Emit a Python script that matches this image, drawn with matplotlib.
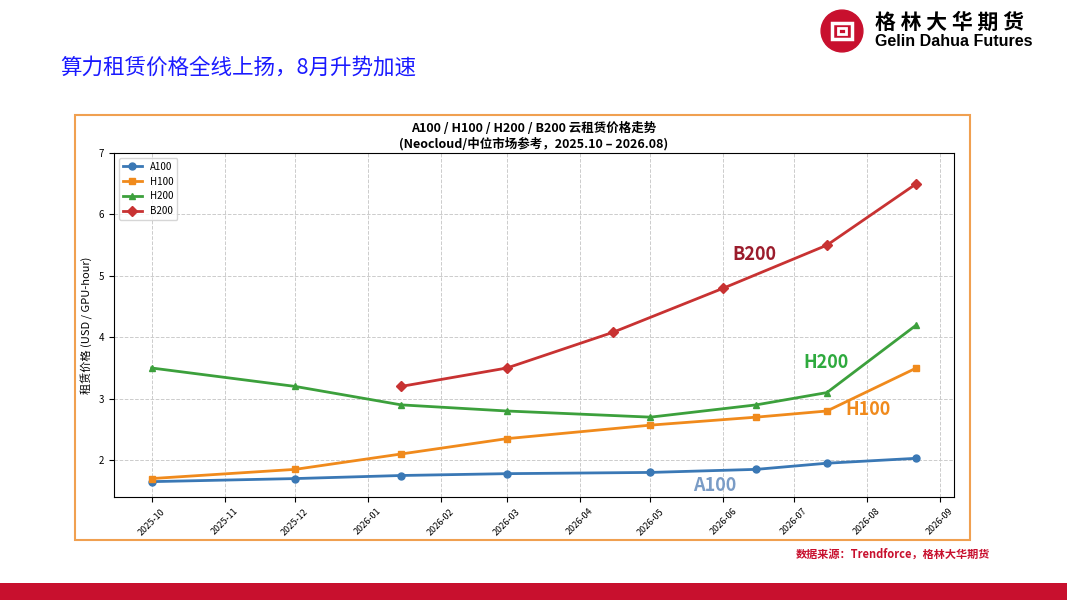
import numpy as np
import pandas as pd
import matplotlib
matplotlib.use('Agg')
from matplotlib import pyplot as plt
from matplotlib.patches import Rectangle, Circle
import matplotlib.dates as mdates

plt.rcParams['font.family'] = ['Noto Sans CJK SC', 'DejaVu Sans']

# data
a100_dates = ['2025-10-01', '2025-12-01', '2026-01-15', '2026-03-01', '2026-05-01',
              '2026-06-15', '2026-07-15', '2026-08-22']
a100 = [1.65, 1.70, 1.75, 1.78, 1.80, 1.85, 1.95, 2.03]
h100_dates = a100_dates
h100 = [1.70, 1.85, 2.10, 2.35, 2.57, 2.70, 2.80, 3.50]
h200_dates = a100_dates
h200 = [3.50, 3.20, 2.90, 2.80, 2.70, 2.90, 3.10, 4.20]
b200_dates = ['2026-01-15', '2026-03-01', '2026-04-15', '2026-06-01', '2026-07-15', '2026-08-22']
b200 = [3.20, 3.50, 4.08, 4.80, 5.50, 6.50]

fig = plt.figure(figsize=(10.67, 6.0), dpi=100)
W, H = 1067.0, 600.0

# header
fig.text(60/W, 1-68/H, '算力租赁价格全线上扬，8月升势加速', color='#1a1aff',
         fontsize=15.5, va='center', ha='left')
lax = fig.add_axes([820/W, 1-53/H, 44/W, 44/H])
lax.set_xlim(-1, 1); lax.set_ylim(-1, 1); lax.set_aspect('equal'); lax.axis('off')
lax.add_patch(Circle((0, 0), 0.95, color='#c8102e'))
lax.add_patch(Rectangle((-0.45, -0.35), 0.9, 0.7, fill=False, ec='white', lw=2.5))
lax.add_patch(Rectangle((-0.2, -0.12), 0.4, 0.24, fill=False, ec='white', lw=2))
fig.text(875/W, 1-22/H, '格 林 大 华 期 货', fontsize=15, weight='bold', va='center', color='black')
fig.text(875/W, 1-42/H, 'Gelin Dahua Futures', fontsize=11.5, weight='bold',
         va='center', color='black', family='Liberation Sans')

# chart frame
fig.patches.append(Rectangle((75/W, 1-540/H), 895/W, 425/H, transform=fig.transFigure,
                             fill=False, ec='#f0a050', lw=1.5))
fig.text(990/W, 1-554/H, '数据来源：Trendforce，格林大华期货', color='#c8102e',
         fontsize=8, ha='right', va='center', weight='bold')
fig.patches.append(Rectangle((0, 0), 1, 17/H, transform=fig.transFigure,
                             color='#c8102e', ec='none'))

ax = fig.add_axes([114/W, 1-497/H, 840/W, 344/H])
series = [('A100', a100_dates, a100, '#3a78b5', 'o'),
          ('H100', h100_dates, h100, '#f08a1c', 's'),
          ('H200', h200_dates, h200, '#3ca03c', '^'),
          ('B200', b200_dates, b200, '#c83232', 'D')]
for name, d, v, c, m in series:
    ax.plot(pd.to_datetime(d), v, color=c, marker=m, markersize=5, lw=2, label=name)

ax.set_ylim(1.4, 7)
ax.set_yticks([2, 3, 4, 5, 6, 7])
ax.set_xlim(pd.Timestamp('2025-09-15'), pd.Timestamp('2026-09-07'))
ax.xaxis.set_major_locator(mdates.MonthLocator())
ax.xaxis.set_major_formatter(mdates.DateFormatter('%Y-%m'))
ax.tick_params(axis='x', labelrotation=45, labelsize=6.5)
ax.tick_params(axis='y', labelsize=7)
ax.grid(True, ls='--', color='#cccccc', lw=0.7)
ax.set_ylabel('租赁价格 (USD / GPU-hour)', fontsize=8)
ax.set_title('A100 / H100 / H200 / B200 云租赁价格走势\n(Neocloud/中位市场参考，2025.10 – 2026.08)',
             fontsize=9, weight='bold', pad=4)
ax.legend(loc='upper left', fontsize=7)

ax.text(pd.Timestamp('2026-06-05'), 5.25, 'B200', color='#9b1c2c', fontsize=13, weight='bold')
ax.text(pd.Timestamp('2026-07-05'), 3.5, 'H200', color='#2eaa3e', fontsize=13, weight='bold')
ax.text(pd.Timestamp('2026-07-23'), 2.73, 'H100', color='#f08a1c', fontsize=13, weight='bold')
ax.text(pd.Timestamp('2026-05-19'), 1.5, 'A100', color='#7a9cc6', fontsize=13, weight='bold')

fig.savefig('out.png', dpi=100)
